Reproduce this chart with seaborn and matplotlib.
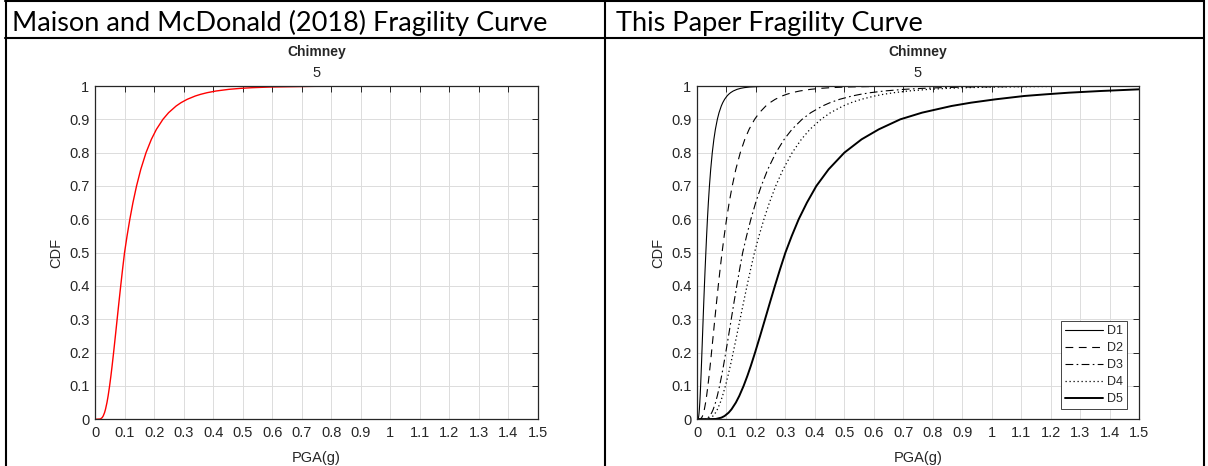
"""Fragility curves for chimney: Maison & McDonald (2018) vs this paper"""

import seaborn as sns
import matplotlib.pyplot as plt
from matplotlib.lines import Line2D

# ------------------------------------------------------------------
# Data (PGA in g at given CDF levels)
# ------------------------------------------------------------------
headers = ["Maison and McDonald (2018) Fragility Curve", "This Paper Fragility Curve"]
panel_title = "Chimney"
panel_subtitle = "5"

cdf_levels = [0, 0.001, 0.005, 0.01, 0.02, 0.03, 0.05, 0.07, 0.1, 0.13, 0.16, 0.2, 0.25,
              0.3, 0.35, 0.4, 0.45, 0.5, 0.55, 0.6, 0.65, 0.7, 0.75, 0.8, 0.84, 0.87,
              0.9, 0.92, 0.94, 0.95, 0.96, 0.97, 0.975, 0.98, 0.985, 0.99, 0.993, 0.995,
              0.997, 0.999, 1.0]

# Maison and McDonald (2018) curve (red)
pga_mm = [0, 0.01828, 0.02425, 0.02782, 0.03232, 0.03554, 0.04047, 0.04441, 0.04942,
          0.05383, 0.05789, 0.06295, 0.069, 0.07494, 0.0809, 0.087, 0.09332, 0.1,
          0.10852, 0.1179, 0.12845, 0.14063, 0.15501, 0.1728, 0.19086, 0.20797, 0.23003,
          0.24926, 0.27473, 0.29131, 0.31203, 0.33956, 0.35751, 0.37996, 0.4098, 0.4536,
          0.4939, 0.5335, 0.5966, 0.7453, 1.5]

# This paper, damage states D1..D4
pga_d1 = [0, 0.00345, 0.00494, 0.00589, 0.00712, 0.00804, 0.00949, 0.01068, 0.01223,
          0.01364, 0.01496, 0.01664, 0.01871, 0.02078, 0.02291, 0.02513, 0.02747, 0.03,
          0.03256, 0.03537, 0.03854, 0.04219, 0.0465, 0.05184, 0.05726, 0.06239, 0.06901,
          0.07478, 0.08242, 0.08739, 0.09361, 0.10187, 0.10725, 0.11399, 0.12294, 0.13608,
          0.14817, 0.16005, 0.17898, 0.22359, 1.5]
pga_d2 = [0, 0.01141, 0.01593, 0.01874, 0.02237, 0.02503, 0.02918, 0.03256, 0.03695,
          0.04089, 0.04455, 0.04919, 0.05483, 0.06044, 0.06617, 0.0721, 0.07833, 0.085,
          0.09224, 0.10022, 0.10918, 0.11954, 0.13176, 0.14688, 0.16223, 0.17677, 0.19553,
          0.21187, 0.23352, 0.24761, 0.26523, 0.28863, 0.30388, 0.32297, 0.34833, 0.38556,
          0.41982, 0.45348, 0.50711, 0.6335, 1.5]
pga_d3 = [0, 0.02833, 0.03759, 0.04312, 0.0501, 0.05509, 0.06273, 0.06884, 0.0766,
          0.08344, 0.08973, 0.09757, 0.10695, 0.11616, 0.1254, 0.13485, 0.14465, 0.155,
          0.16821, 0.18275, 0.1991, 0.21798, 0.24027, 0.26784, 0.29583, 0.32235, 0.35655,
          0.38635, 0.42583, 0.45153, 0.48365, 0.52632, 0.55414, 0.58894, 0.63519, 0.70308,
          0.76555, 0.82693, 0.92473, 1.15522, 1.5]
pga_d4 = [0, 0.03565, 0.04729, 0.05425, 0.06302, 0.0693, 0.07892, 0.0866, 0.09637,
          0.10497, 0.11289, 0.12275, 0.13455, 0.14613, 0.15776, 0.16965, 0.18197, 0.195,
          0.21027, 0.22702, 0.24572, 0.26709, 0.29229, 0.32312, 0.35416, 0.38329, 0.42073,
          0.4531, 0.49565, 0.52319, 0.55749, 0.60275, 0.63205, 0.6686, 0.71702, 0.78737,
          0.85184, 0.91465, 1.01402, 1.24531, 1.5]

# D5 does not quite reach 1 within the plotted range
cdf_d5 = [0, 0.001, 0.005, 0.01, 0.02, 0.03, 0.05, 0.07, 0.1, 0.13, 0.16, 0.2, 0.25,
          0.3, 0.35, 0.4, 0.45, 0.5, 0.55, 0.6, 0.65, 0.7, 0.75, 0.8, 0.84, 0.87,
          0.9, 0.92, 0.94, 0.95, 0.96, 0.97, 0.975, 0.98, 0.985, 0.99]
pga_d5 = [0, 0.064, 0.08274, 0.09375, 0.10743, 0.11715, 0.13179, 0.14343, 0.15807,
          0.17085, 0.18252, 0.19695, 0.21411, 0.23082, 0.24741, 0.2643, 0.28173, 0.3,
          0.3215, 0.345, 0.373, 0.405, 0.4467, 0.5, 0.5586, 0.617, 0.69, 0.7637, 0.8636,
          0.93, 1.0128, 1.11, 1.183, 1.263, 1.37, 1.5]

state_names = ["D1", "D2", "D3", "D4", "D5"]

x_ticks = [round(0.1 * i, 1) for i in range(16)]
y_ticks = [round(0.1 * i, 1) for i in range(11)]


def fmt(v):
    return "%g" % v


# ------------------------------------------------------------------
# Style
# ------------------------------------------------------------------
sns.set_theme(style="whitegrid")
plt.rcParams["font.family"] = ["Liberation Sans", "DejaVu Sans"]
TXT = "#262626"

W, H = 1208, 466
fig = plt.figure(figsize=(W / 100, H / 100), dpi=100)
fig.patch.set_facecolor("white")


def px_axes(x0, x1, ytop, ybot):
    return fig.add_axes([x0 / W, 1 - ybot / H, (x1 - x0) / W, (ybot - ytop) / H])


def style_axes(ax):
    ax.set_xlim(0, 1.5)
    ax.set_ylim(0, 1)
    ax.set_xticks(x_ticks)
    ax.set_xticklabels([fmt(v) for v in x_ticks])
    ax.set_yticks(y_ticks)
    ax.set_yticklabels([fmt(v) for v in y_ticks])
    ax.set_facecolor("white")
    ax.grid(True, color="#dcdcdc", linewidth=0.7)
    for s in ax.spines.values():
        s.set_visible(True)
        s.set_color(TXT)
        s.set_linewidth(0.9)
    ax.tick_params(axis="both", direction="in", top=True, right=True, length=4,
                   width=0.7, color=TXT, labelcolor=TXT, labelsize=10.5)
    ax.tick_params(axis="x", pad=5)
    ax.tick_params(axis="y", pad=4)
    ax.set_xlabel("PGA(g)", fontsize=10.5, color=TXT, labelpad=7.5)
    ax.set_ylabel("CDF", fontsize=10.5, color=TXT, labelpad=4)
    ax.text(0.5, 1.102, panel_title, transform=ax.transAxes, ha="center", va="center",
            fontsize=10, fontweight="bold", color=TXT)
    ax.text(0.5, 1.039, panel_subtitle, transform=ax.transAxes, ha="center", va="center",
            fontsize=10.5, color=TXT)


# ------------------------------------------------------------------
# Left panel
# ------------------------------------------------------------------
ax1 = px_axes(95, 538, 86, 419.3)
sns.lineplot(x=pga_mm, y=cdf_levels, ax=ax1, color="red", linewidth=1.0,
             estimator=None, sort=False)
style_axes(ax1)

# ------------------------------------------------------------------
# Right panel
# ------------------------------------------------------------------
ax2 = px_axes(697, 1139, 86, 419.3)
curves = [
    (pga_d1, cdf_levels, "-", 0.8),
    (pga_d2, cdf_levels, (0, (7, 5)), 0.8),
    (pga_d3, cdf_levels, (0, (7, 3, 1.5, 3)), 0.8),
    (pga_d4, cdf_levels, (0, (1, 2.2)), 0.9),
    (pga_d5, cdf_d5, "-", 1.4),
]
for name, (xs, ys, ls, lw) in zip(state_names, curves):
    sns.lineplot(x=xs, y=ys, ax=ax2, color="black", linewidth=lw, linestyle=ls,
                 estimator=None, sort=False, label=name)
style_axes(ax2)
leg = ax2.legend(loc="lower right", bbox_to_anchor=(0.973, 0.030), borderaxespad=0,
                 fontsize=9, frameon=True, fancybox=False, framealpha=1,
                 handlelength=3.0, handletextpad=0.3, labelspacing=0.4, borderpad=0.35)
leg.get_frame().set_edgecolor(TXT)
leg.get_frame().set_linewidth(0.6)
for t in leg.get_texts():
    t.set_color(TXT)

# ------------------------------------------------------------------
# Table frame and header row
# ------------------------------------------------------------------
for x in (5.5, 604.5, 1204):
    fig.add_artist(Line2D([x / W, x / W], [0, 1], color="black", linewidth=1.5))
for y in (0.8, 38):
    fig.add_artist(Line2D([5 / W, 1204 / W], [1 - y / H, 1 - y / H], color="black",
                          linewidth=1.5))
for x, txt in zip((12, 616), headers):
    fig.text(x / W, 1 - 30.5 / H, txt, ha="left", va="baseline", fontsize=19.5,
             family=["Lato", "DejaVu Sans"], color="black")

fig.savefig("out.png", dpi=100)
